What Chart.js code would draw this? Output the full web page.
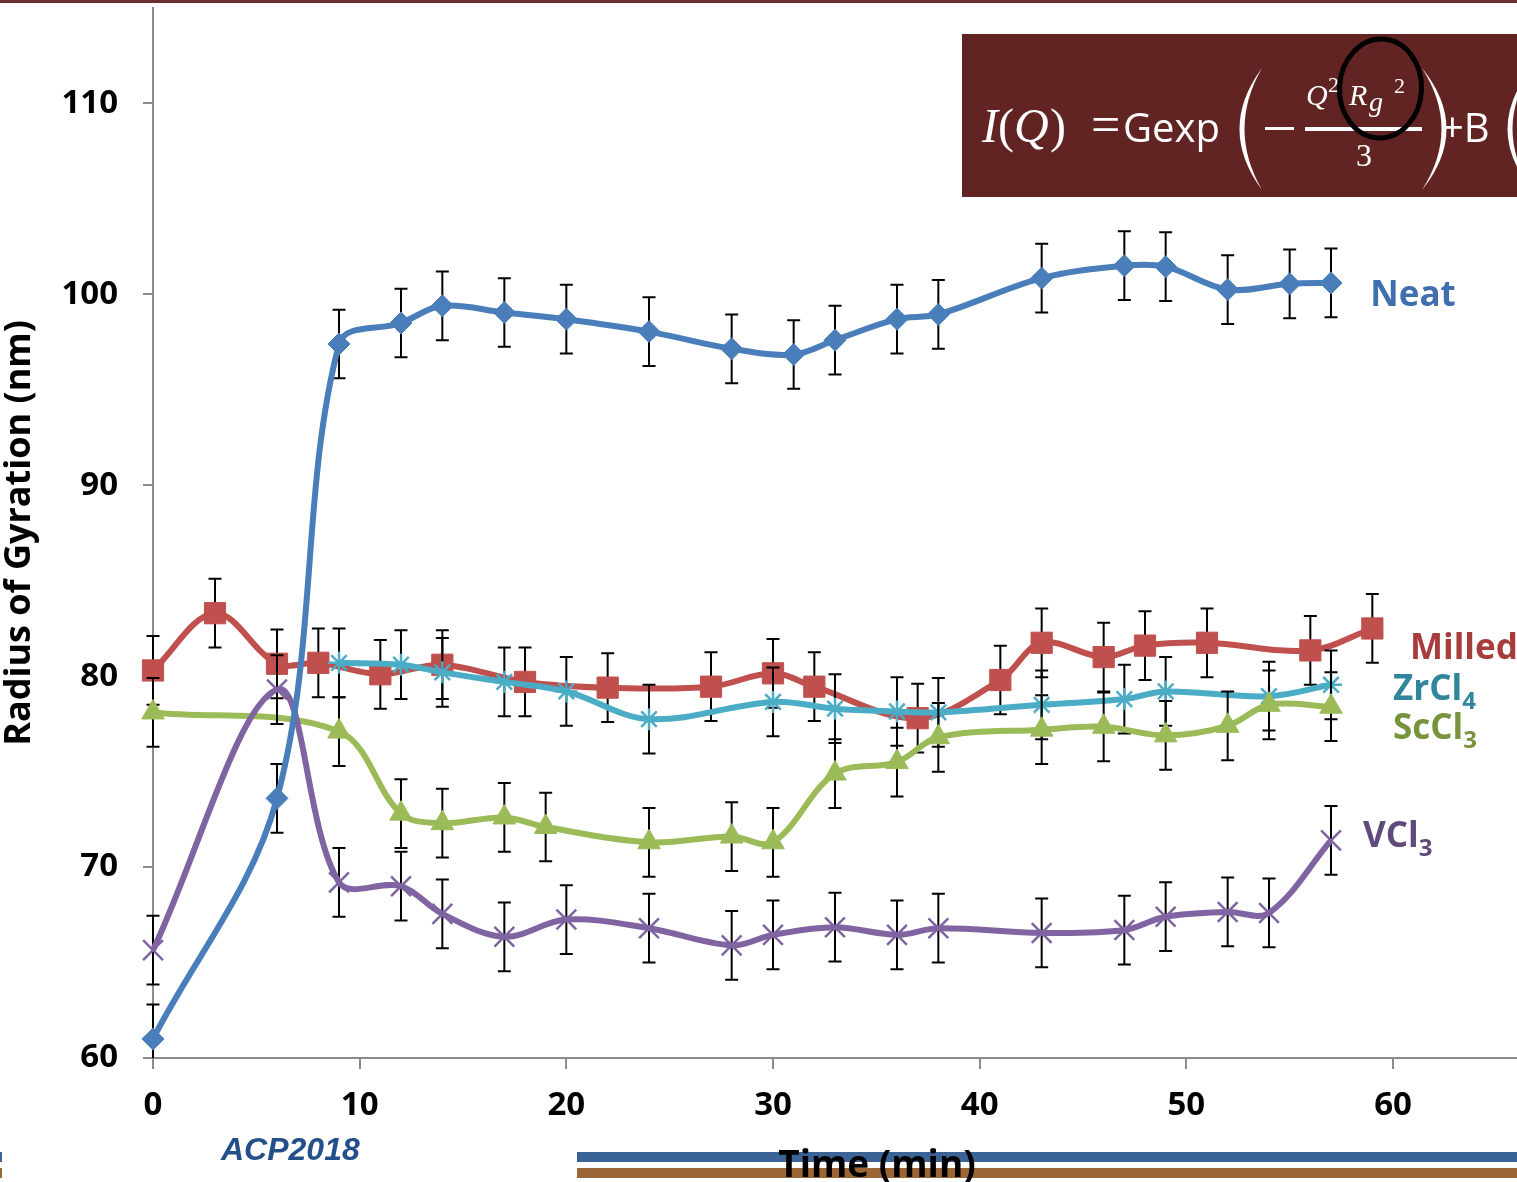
<!DOCTYPE html>
<html>
<head>
<meta charset="utf-8">
<script src="https://cdn.jsdelivr.net/npm/chart.js@4.4.1/dist/chart.umd.min.js"></script>
<style>
  html, body { margin: 0; padding: 0; background: #fff; }
  #wrap { position: relative; width: 1517px; height: 1182px; }
</style>
</head>
<body>
<div id="wrap"><canvas id="rg"></canvas></div>
<script>
// time (min) and radius of gyration (nm)
const neatTime = [0, 6, 9, 12, 14, 17, 20, 24, 28, 31, 33, 36, 38, 43, 47, 49, 52, 55, 57];
const neatRg   = [61.0, 73.6, 97.4, 98.5, 99.4, 99.05, 98.7, 98.05, 97.15, 96.85, 97.6, 98.7, 98.95, 100.85, 101.5, 101.45, 100.25, 100.55, 100.6];

const milledTime = [0, 3, 6, 8, 11, 14, 18, 22, 27, 30, 32, 37, 41, 43, 46, 48, 51, 56, 59];
const milledRg   = [80.3, 83.3, 80.65, 80.7, 80.1, 80.6, 79.7, 79.4, 79.45, 80.15, 79.45, 77.8, 79.8, 81.75, 81.0, 81.6, 81.75, 81.35, 82.5];

const zrTime = [9, 12, 14, 17, 20, 24, 30, 33, 36, 38, 43, 47, 49, 54, 57];
const zrRg   = [80.7, 80.6, 80.2, 79.7, 79.2, 77.75, 78.65, 78.3, 78.15, 78.1, 78.5, 78.8, 79.2, 78.95, 79.55];

const scTime = [0, 9, 12, 14, 17, 19, 24, 28, 30, 33, 36, 38, 43, 46, 49, 52, 54, 57];
const scRg   = [78.1, 77.1, 72.8, 72.3, 72.6, 72.1, 71.3, 71.6, 71.3, 74.9, 75.5, 76.8, 77.2, 77.35, 76.9, 77.4, 78.5, 78.4];

const vTime = [0, 6, 9, 12, 14, 17, 20, 24, 28, 30, 33, 36, 38, 43, 47, 49, 52, 54, 57];
const vRg   = [65.65, 79.3, 69.2, 69.0, 67.55, 66.35, 67.25, 66.8, 65.9, 66.45, 66.85, 66.45, 66.8, 66.55, 66.7, 67.4, 67.65, 67.6, 71.4];

const errorRg = 1.8; // same +/- on every point

const xTicks = [0, 10, 20, 30, 40, 50, 60];
const yTicks = [60, 70, 80, 90, 100, 110];

const pts = (xs, ys) => xs.map((x, i) => ({ x: x, y: ys[i] }));

const FONT = '"Open Sans", "Noto Sans", sans-serif';
const SERIF = '"Liberation Serif", serif';

// error bars go under each series' own line/markers
const errorBars = {
  id: 'errorBars',
  beforeDatasetDraw(chart, args) {
    const { ctx, chartArea } = chart;
    const y = chart.scales.y;
    const ds = chart.data.datasets[args.index];
    ctx.save();
    ctx.beginPath();
    ctx.rect(0, chartArea.top, chart.width, chartArea.bottom - chartArea.top);
    ctx.clip();
    ctx.strokeStyle = '#000';
    ctx.lineWidth = 2;
    args.meta.data.forEach((p, i) => {
      const v = ds.data[i].y;
      const t = y.getPixelForValue(v + errorRg);
      const b = y.getPixelForValue(v - errorRg);
      ctx.beginPath();
      ctx.moveTo(p.x, t); ctx.lineTo(p.x, b);
      ctx.moveTo(p.x - 6.5, t); ctx.lineTo(p.x + 6.5, t);
      ctx.moveTo(p.x - 6.5, b); ctx.lineTo(p.x + 6.5, b);
      ctx.stroke();
    });
    ctx.restore();
  }
};

// slide decoration: top rule and the two bars behind the x title
const slideBack = {
  id: 'slideBack',
  beforeDraw(chart) {
    const ctx = chart.ctx;
    ctx.save();
    ctx.fillStyle = '#6b3030';
    ctx.fillRect(0, 0, chart.width, 3);
    ctx.fillStyle = '#3a6496';
    ctx.fillRect(577, 1152, chart.width - 577, 10);
    ctx.fillRect(0, 1152, 2, 10);
    ctx.fillStyle = '#9b6634';
    ctx.fillRect(577, 1168, chart.width - 577, 10);
    ctx.fillRect(0, 1168, 2, 10);
    ctx.fillStyle = '#234f8a';
    ctx.font = 'italic bold 32px "Liberation Sans", Arial, sans-serif';
    ctx.textBaseline = 'alphabetic';
    ctx.fillText('ACP2018', 221, 1160);
    ctx.restore();
  }
};

function paren(ctx, x0, xb, y0, y1, w) {
  const ym = (y0 + y1) / 2;
  const dir = xb < x0 ? 1 : -1;
  ctx.beginPath();
  ctx.moveTo(x0, y0);
  ctx.quadraticCurveTo(2 * xb - x0 - dir * w, ym, x0, y1);
  ctx.quadraticCurveTo(2 * xb - x0 + dir * w, ym, x0, y0);
  ctx.fill();
}

const formulaBox = {
  id: 'formulaBox',
  afterDraw(chart) {
    const ctx = chart.ctx;
    ctx.save();
    ctx.fillStyle = '#622423';
    ctx.fillRect(962, 34, chart.width - 962, 163);
    ctx.fillStyle = '#fff';
    ctx.textBaseline = 'alphabetic';
    ctx.font = 'italic 48px ' + SERIF; ctx.fillText('I', 982, 142);
    ctx.font = '48px ' + SERIF; ctx.fillText('(', 998, 142);
    ctx.font = 'italic 48px ' + SERIF; ctx.fillText('Q', 1014, 142);
    ctx.font = '48px ' + SERIF; ctx.fillText(')', 1050, 142);
    ctx.font = '52px ' + SERIF; ctx.fillText('=', 1091, 142);
    ctx.font = '40px ' + FONT; ctx.fillText('Gexp', 1123, 142);
    paren(ctx, 1262, 1242, 68, 190, 5);
    ctx.fillRect(1265, 127, 29, 3);
    ctx.fillRect(1305, 127, 117, 4);
    ctx.font = 'italic 30px ' + SERIF; ctx.fillText('Q', 1306, 105);
    ctx.font = '22px ' + SERIF; ctx.fillText('2', 1328, 92);
    ctx.font = 'italic 30px ' + SERIF; ctx.fillText('R', 1349, 105);
    ctx.font = 'italic 28px ' + SERIF; ctx.fillText('g', 1369, 111);
    ctx.font = '22px ' + SERIF; ctx.fillText('2', 1394, 93);
    ctx.font = '32px ' + SERIF; ctx.fillText('3', 1356, 166);
    paren(ctx, 1422, 1444, 68, 190, 5);
    ctx.font = '40px ' + FONT; ctx.fillText('+B', 1441, 142);
    paren(ctx, 1532, 1510, 68, 190, 5);
    ctx.strokeStyle = '#000';
    ctx.lineWidth = 5;
    ctx.beginPath();
    ctx.ellipse(1380.5, 88.5, 41, 49.5, 0.05, 0, Math.PI * 2);
    ctx.stroke();
    ctx.restore();
  }
};

// series names next to the last points (anchored in data units)
const seriesNames = [
  { text: 'Neat', sub: '', x: 58.9, y: 99.4, color: '#3f6fae' },
  { text: 'Milled', sub: '', x: 60.82, y: 80.9, color: '#a83b3b' },
  { text: 'ZrCl', sub: '4', x: 60.0, y: 78.76, color: '#31859c' },
  { text: 'ScCl', sub: '3', x: 60.0, y: 76.72, color: '#77933c' },
  { text: 'VCl', sub: '3', x: 58.55, y: 71.06, color: '#604a7b' }
];

const nameLabels = {
  id: 'nameLabels',
  afterDraw(chart) {
    const { ctx, scales: { x, y } } = chart;
    ctx.save();
    ctx.textBaseline = 'alphabetic';
    seriesNames.forEach(n => {
      const px = x.getPixelForValue(n.x);
      const py = y.getPixelForValue(n.y);
      ctx.fillStyle = n.color;
      ctx.font = 'bold 35px ' + FONT;
      ctx.fillText(n.text, px, py);
      if (n.sub) {
        const w = ctx.measureText(n.text).width;
        ctx.font = 'bold 24px ' + FONT;
        ctx.fillText(n.sub, px + w, py + 9);
      }
    });
    // x-axis title sits off-centre on the slide, over the coloured bars
    ctx.fillStyle = '#000';
    ctx.font = 'bold 37px ' + FONT;
    ctx.textAlign = 'center';
    ctx.fillText('Time (min)', 877, 1177);
    ctx.restore();
  }
};

const line = (label, xs, ys, color, style, radius, extra) => Object.assign({
  label: label,
  data: pts(xs, ys),
  borderColor: color,
  backgroundColor: color,
  borderWidth: 6,
  tension: 0.35,
  pointStyle: style,
  pointRadius: radius,
  pointBorderWidth: 1,
  pointBackgroundColor: color,
  pointBorderColor: color,
  clip: false
}, extra || {});

new Chart(document.getElementById('rg'), {
  type: 'line',
  data: {
    datasets: [
      line('Neat', neatTime, neatRg, '#4a7ebb', 'rectRot', 11),
      line('VCl3', vTime, vRg, '#8064a2', 'crossRot', 14, { pointBorderWidth: 2.5 }),
      line('ScCl3', scTime, scRg, '#9bbb59', 'triangle', 13),
      line('ZrCl4', zrTime, zrRg, '#4bacc6', 'star', 11, { pointBorderWidth: 2.5 }),
      line('Milled', milledTime, milledRg, '#c0504d', 'rect', 15)
    ]
  },
  options: {
    responsive: true,
    maintainAspectRatio: false,
    animation: false,
    events: [],
    layout: { autoPadding: false, padding: { top: 8, left: 0, right: 0, bottom: 0 } },
    plugins: {
      legend: { display: false },
      tooltip: { enabled: false }
    },
    scales: {
      x: {
        type: 'linear',
        min: 0,
        max: 66,
        afterBuildTicks: s => { s.ticks = xTicks.map(v => ({ value: v })); },
        afterFit: s => { s.height = 124; s.paddingLeft = 0; s.paddingRight = 0; },
        ticks: { color: '#000', padding: 17, font: { family: FONT, size: 33, weight: 'bold' } },
        grid: { drawOnChartArea: false, color: '#8c8c8c', lineWidth: 2, tickLength: 11 },
        border: { color: '#8c8c8c', width: 2 }
      },
      y: {
        min: 60,
        max: 115,
        afterBuildTicks: s => { s.ticks = yTicks.map(v => ({ value: v })); },
        afterFit: s => { s.width = 153; s.paddingTop = 0; s.paddingBottom = 0; },
        ticks: { color: '#000', padding: 25, font: { family: FONT, size: 33, weight: 'bold' } },
        grid: { drawOnChartArea: false, color: '#8c8c8c', lineWidth: 2, tickLength: 10 },
        border: { color: '#8c8c8c', width: 2 },
        title: {
          display: true,
          text: 'Radius of Gyration (nm)',
          color: '#000',
          padding: 0,
          font: { family: FONT, size: 36, weight: 'bold', lineHeight: 1.1 }
        }
      }
    }
  },
  plugins: [slideBack, errorBars, formulaBox, nameLabels]
});
</script>
</body>
</html>
